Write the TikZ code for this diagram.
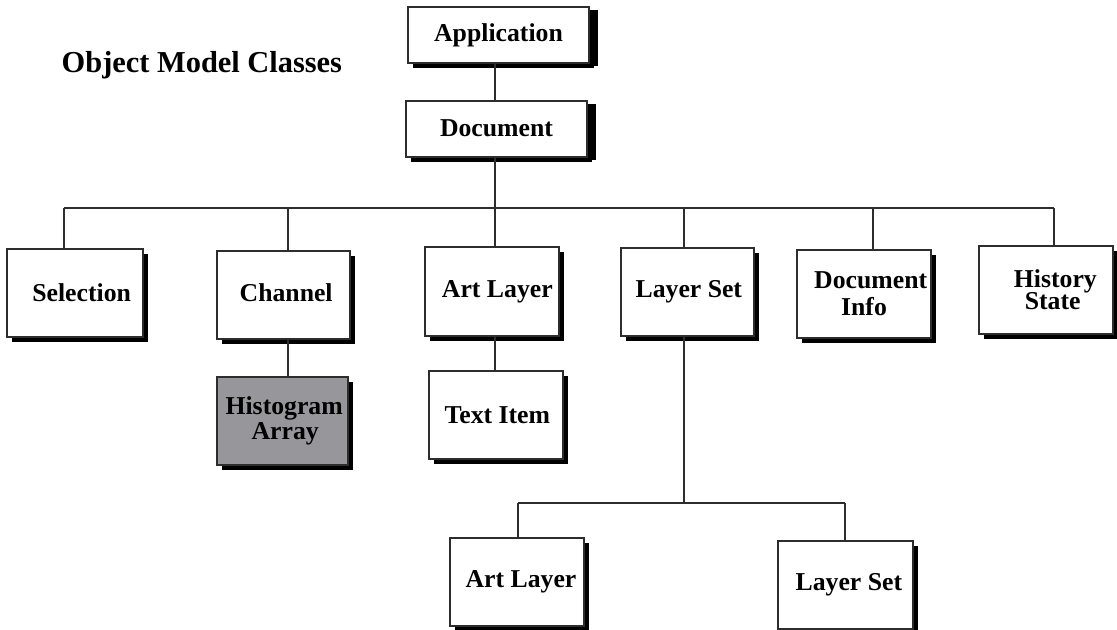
\documentclass[tikz,border=0pt]{standalone}
\usepackage{fontspec}
\setmainfont{Liberation Serif}
\usetikzlibrary{shadows}
\definecolor{histgray}{RGB}{151,151,155}
\definecolor{linegray}{RGB}{45,45,45}
\tikzset{
  box/.style 2 args={draw=linegray, line width=0.9pt, fill=white, inner sep=0pt,
    minimum width=#1*0.75pt, minimum height=#2*0.75pt, align=center,
    font=\fontsize{19.3}{20.5}\selectfont\bfseries,
    general shadow={fill=black, shadow xshift=3.75pt, shadow yshift=-3.75pt}},
  topbox/.style 2 args={box={#1}{#2},
    general shadow={fill=black, shadow xshift=6.5pt, shadow yshift=-2.3pt}},
  conn/.style={draw=linegray, line width=0.9pt},
}
\begin{document}
\begin{tikzpicture}[x=0.75pt, y=-0.75pt]
\useasboundingbox (0,0) rectangle (1117,630);
\node[anchor=base west, font=\fontsize{22.8}{24}\selectfont\bfseries] (title) at (57,73) {Object Model Classes};
% top
\node[topbox={181}{56}] (app) at (498.5,35) {\raisebox{1pt}{Application}};
\node[topbox={181}{56}] (doc) at (496.5,129) {\raisebox{1pt}{Document}};
% level 2
\node[box={136}{88}] (sel) at (75,293) {\hspace{10pt}Selection};
\node[box={133}{88}] (chan) at (283.5,295) {\hspace{4pt}\raisebox{3.5pt}{Channel}};
\node[box={131}{88}, fill=histgray] (hist) at (282.5,421) {\hspace{2.5pt}Histogram\\[-2pt]\hspace{4pt}Array};
\node[box={134}{89}] (art) at (492,291.5) {\hspace{8pt}\raisebox{2pt}{Art Layer}};
\node[box={134}{88}] (txt) at (496,415) {\hspace{2pt}\raisebox{-2pt}{Text Item}};
\node[box={133}{88}] (ls) at (687.5,292) {\hspace{2pt}Layer Set};
\node[box={134}{88}] (dinfo) at (864,294) {\hspace{10pt}Document\\[0pt]Info};
\node[box={134}{88}] (hstate) at (1046,290) {\hspace{14pt}History\\[-4pt]\hspace{10pt}State};
% level 3
\node[box={134}{88}] (art2) at (517,582) {\hspace{6pt}\raisebox{-2pt}{Art Layer}};
\node[box={135}{88}] (ls2) at (845.5,585) {\hspace{5pt}\raisebox{-2pt}{Layer Set}};
% bus coordinates
\coordinate (mainx) at (495,208);
\coordinate (busL) at (64,208);
\coordinate (busC) at (288,208);
\coordinate (busLS) at (684,208);
\coordinate (busDI) at (873,208);
\coordinate (busR) at (1054,208);
\coordinate (subC) at (684,503);
\coordinate (subL) at (518,503);
\coordinate (subR) at (845,503);
% connectors
\draw[conn] (app.south -| mainx) -- (doc.north -| mainx);
\draw[conn] (doc.south -| mainx) -- (mainx);
\draw[conn] (busL) -- (busR);
\draw[conn] (busL) -- (sel.north -| busL);
\draw[conn] (busC) -- (chan.north -| busC);
\draw[conn] (chan.south -| busC) -- (hist.north -| busC);
\draw[conn] (mainx) -- (art.north -| mainx);
\draw[conn] (art.south -| mainx) -- (txt.north -| mainx);
\draw[conn] (busLS) -- (ls.north -| busLS);
\draw[conn] (busDI) -- (dinfo.north -| busDI);
\draw[conn] (busR) -- (hstate.north -| busR);
\draw[conn] (ls.south -| subC) -- (subC);
\draw[conn] (subL) -- (subR);
\draw[conn] (subL) -- (art2.north -| subL);
\draw[conn] (subR) -- (ls2.north -| subR);
\end{tikzpicture}
\end{document}
